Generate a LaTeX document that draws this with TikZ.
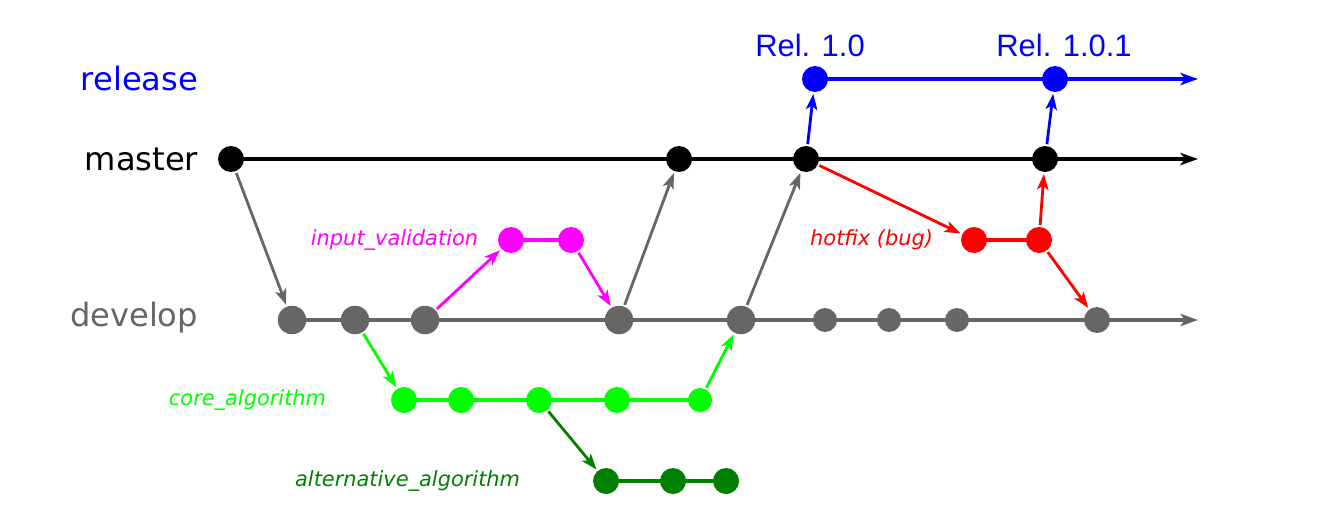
\documentclass[tikz,border=0pt]{standalone}
\usepackage{fontspec}
\setmainfont{DejaVu Sans}
\newfontfamily\relfont{Liberation Sans}
\usetikzlibrary{arrows.meta}
\definecolor{devgray}{RGB}{102,102,102}
\definecolor{coregreen}{RGB}{0,255,0}
\definecolor{altgreen}{RGB}{0,128,0}
\definecolor{inputmag}{RGB}{255,0,255}
\definecolor{relblue}{RGB}{0,0,255}
\definecolor{fixred}{RGB}{255,0,0}

\begin{document}
\begin{tikzpicture}[x=0.02cm, y=-0.02cm, line width=2.2pt,
  commit/.style={circle, fill, inner sep=0pt, minimum size=0.52cm},
  bigcommit/.style={commit, minimum size=0.57cm},
  smallcommit/.style={commit, minimum size=0.48cm},
  lane/.style={font=\fontsize{18.3}{20}\selectfont, anchor=east, inner sep=0pt},
  branch/.style={font=\itshape\fontsize{11.9}{14}\selectfont, anchor=east, inner sep=0pt},
  rel/.style={font=\relfont\fontsize{17.6}{20}\selectfont, inner sep=0pt},
  tip/.style={-{Stealth[length=10pt, width=7pt, inset=2.5pt]}},
  merge/.style={line width=1.6pt, -{Stealth[length=9pt, width=6.5pt, inset=2.2pt]}}]
\useasboundingbox (0, 0) rectangle (1317, 524);
%Lane labels
\node[lane, relblue] (lrelease) at (200, 79) {release};
\node[lane, black] (lmaster) at (200, 159) {master};
\node[lane, devgray] (ldevelop) at (200, 318) {develop};
\node[branch, inputmag] (linput) at (480, 240) {input\_validation};
\node[branch, fixred] (lhotfix) at (935, 240) {hotfix (bug)};
\node[branch, coregreen] (lcore) at (328, 400) {core\_algorithm};
\node[branch, altgreen] (lalt) at (522, 481) {alternative\_algorithm};
\node[rel, relblue] (lrel1) at (810, 45) {Rel. 1.0};
\node[rel, relblue] (lrel2) at (1064, 45) {Rel. 1.0.1};
%release
\node[commit, relblue] (r1) at (815, 79) {};
\node[commit, relblue] (r2) at (1055, 79) {};
\coordinate (rend) at (1198, 79);
\draw[relblue, tip] (r1.center) -- (r2.center) -- (rend);
%master
\node[commit, black] (m1) at (231, 159) {};
\node[commit, black] (m2) at (679, 159) {};
\node[commit, black] (m3) at (806, 159) {};
\node[commit, black] (m4) at (1045, 159) {};
\coordinate (mend) at (1198, 159);
\draw[black, tip] (m1.center) -- (m4.center) -- (mend);
%develop
\node[bigcommit, devgray] (d1) at (292, 320) {};
\node[bigcommit, devgray] (d2) at (355, 320) {};
\node[bigcommit, devgray] (d3) at (425, 320) {};
\node[bigcommit, devgray] (d4) at (619, 320) {};
\node[bigcommit, devgray] (d5) at (741, 320) {};
\node[smallcommit, devgray] (d6) at (825, 320) {};
\node[smallcommit, devgray] (d7) at (889, 320) {};
\node[smallcommit, devgray] (d8) at (957, 320) {};
\node[commit, devgray] (d9) at (1097, 320) {};
\coordinate (dend) at (1198, 320);
\draw[devgray, tip] (d1.center) -- (d9.center) -- (dend);
%input_validation
\node[commit, inputmag] (i1) at (511, 240) {};
\node[commit, inputmag] (i2) at (571, 240) {};
\draw[inputmag] (i1.center) -- (i2.center);
%hotfix
\node[commit, fixred] (h1) at (974, 240) {};
\node[commit, fixred] (h2) at (1039, 240) {};
\draw[fixred] (h1.center) -- (h2.center);
%core_algorithm
\node[commit, coregreen] (c1) at (404, 400) {};
\node[commit, coregreen] (c2) at (461, 400) {};
\node[commit, coregreen] (c3) at (539, 400) {};
\node[commit, coregreen] (c4) at (617, 400) {};
\node[smallcommit, coregreen] (c5) at (700, 400) {};
\draw[coregreen] (c1.center) -- (c5.center);
%alternative_algorithm
\node[commit, altgreen] (a1) at (606, 481) {};
\node[commit, altgreen] (a2) at (673, 481) {};
\node[commit, altgreen] (a3) at (726, 481) {};
\draw[altgreen] (a1.center) -- (a3.center);
%Merges and branches
\draw[merge, devgray] (m1) -- (d1);
\draw[merge, devgray] (d4) -- (m2);
\draw[merge, devgray] (d5) -- (m3);
\draw[merge, inputmag] (d3) -- (i1);
\draw[merge, inputmag] (i2) -- (d4);
\draw[merge, coregreen] (d2) -- (c1);
\draw[merge, coregreen] (c5) -- (d5);
\draw[merge, altgreen] (c3) -- (a1);
\draw[merge, relblue] (m3) -- (r1);
\draw[merge, relblue] (m4) -- (r2);
\draw[merge, fixred] (m3) -- (h1);
\draw[merge, fixred] (h2) -- (m4);
\draw[merge, fixred] (h2) -- (d9);
\end{tikzpicture}
\end{document}
